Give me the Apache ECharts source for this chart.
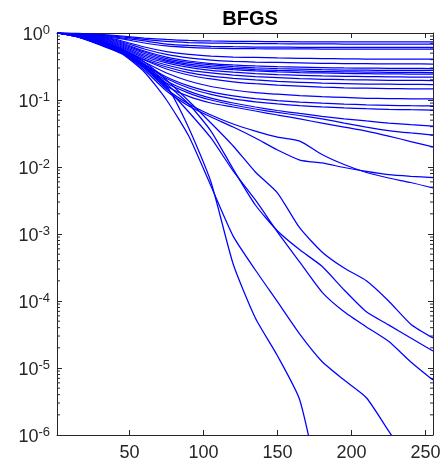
<!DOCTYPE html>
<html>
<head>
<meta charset="utf-8">
<script src="https://cdn.jsdelivr.net/npm/echarts@6/dist/echarts.min.js"></script>
<style>
html,body{margin:0;padding:0;background:#ffffff;}
#chart{width:442px;height:467px;}
</style>
</head>
<body>
<div id="chart"></div>
<script>
// ---- data ----
const chartTitle = 'BFGS';
const iterations = [1, 15, 30, 45, 60, 75, 90, 105, 120, 135, 150, 165, 180, 195, 210, 225, 240, 255];
const xTickValues = [50, 100, 150, 200, 250];
const minorMantissas = [2, 3, 4, 5, 6, 7, 8, 9];
const minorDecades = [-6, -5, -4, -3, -2, -1];

const run01 = [1, 0.983, 0.950, 0.902, 0.842, 0.800, 0.773, 0.760, 0.752, 0.747, 0.742, 0.739, 0.737, 0.734, 0.734, 0.734, 0.734, 0.734];
const run02 = [1, 0.983, 0.934, 0.872, 0.800, 0.747, 0.721, 0.709, 0.702, 0.697, 0.692, 0.690, 0.688, 0.685, 0.685, 0.685, 0.685, 0.685];
const run03 = [1, 0.966, 0.918, 0.842, 0.760, 0.685, 0.651, 0.633, 0.624, 0.618, 0.614, 0.612, 0.610, 0.608, 0.608, 0.608, 0.608, 0.608];
const run04 = [1, 0.966, 0.902, 0.814, 0.709, 0.640, 0.608, 0.593, 0.587, 0.583, 0.581, 0.579, 0.577, 0.577, 0.577, 0.577, 0.577, 0.577];
const run05 = [1, 0.966, 0.887, 0.760, 0.618, 0.529, 0.478, 0.453, 0.438, 0.431, 0.424, 0.419, 0.415, 0.412, 0.409, 0.409, 0.409, 0.409];
const run06 = [1, 0.966, 0.872, 0.734, 0.577, 0.478, 0.424, 0.395, 0.378, 0.369, 0.363, 0.357, 0.353, 0.350, 0.348, 0.347, 0.346, 0.344];
const run07 = [1, 0.966, 0.857, 0.709, 0.539, 0.438, 0.382, 0.350, 0.333, 0.322, 0.314, 0.309, 0.305, 0.301, 0.299, 0.297, 0.296, 0.295];
const run08 = [1, 0.950, 0.842, 0.685, 0.521, 0.416, 0.363, 0.333, 0.314, 0.302, 0.294, 0.288, 0.283, 0.280, 0.278, 0.276, 0.276, 0.276];
const run09 = [1, 0.950, 0.828, 0.662, 0.494, 0.395, 0.344, 0.316, 0.297, 0.285, 0.276, 0.271, 0.266, 0.263, 0.261, 0.259, 0.258, 0.257];
const run10 = [1, 0.950, 0.814, 0.640, 0.469, 0.376, 0.327, 0.300, 0.283, 0.272, 0.264, 0.257, 0.253, 0.249, 0.247, 0.245, 0.244, 0.244];
const run11 = [1, 0.934, 0.800, 0.618, 0.446, 0.357, 0.306, 0.277, 0.260, 0.248, 0.240, 0.234, 0.229, 0.226, 0.224, 0.222, 0.220, 0.220];
const run12 = [1, 0.934, 0.786, 0.597, 0.424, 0.333, 0.280, 0.253, 0.236, 0.224, 0.216, 0.209, 0.204, 0.201, 0.199, 0.197, 0.196, 0.195];
const run13 = [1, 0.934, 0.773, 0.577, 0.402, 0.311, 0.257, 0.228, 0.211, 0.199, 0.190, 0.184, 0.179, 0.176, 0.173, 0.172, 0.171, 0.170];
const run14 = [1, 0.918, 0.760, 0.557, 0.395, 0.290, 0.236, 0.206, 0.187, 0.175, 0.167, 0.161, 0.156, 0.152, 0.150, 0.148, 0.147, 0.146];
const run15 = [1, 0.918, 0.747, 0.557, 0.369, 0.253, 0.192, 0.159, 0.141, 0.129, 0.122, 0.116, 0.112, 0.109, 0.106, 0.105, 0.104, 0.1035];
const run16 = [1, 0.902, 0.734, 0.539, 0.344, 0.220, 0.162, 0.132, 0.115, 0.105, 0.0980, 0.0933, 0.0896, 0.0869, 0.0848, 0.0833, 0.0822, 0.0814];
const run17 = [1, 0.902, 0.721, 0.529, 0.333, 0.209, 0.151, 0.121, 0.104, 0.0940, 0.0872, 0.0825, 0.0789, 0.0762, 0.0742, 0.0726, 0.0716, 0.0709];
const run18 = [1, 0.902, 0.709, 0.521, 0.322, 0.192, 0.136, 0.107, 0.0902, 0.0786, 0.0697, 0.0629, 0.0571, 0.0524, 0.0486, 0.0453, 0.0428, 0.0409];
const run19 = [1, 0.887, 0.697, 0.512, 0.311, 0.179, 0.127, 0.100, 0.0842, 0.0734, 0.0651, 0.0587, 0.0521, 0.0453, 0.0395, 0.0350, 0.0322, 0.0300];
const run20 = [1, 0.872, 0.685, 0.503, 0.300, 0.162, 0.113, 0.0902, 0.0786, 0.0685, 0.0597, 0.0521, 0.0453, 0.0395, 0.0344, 0.0290, 0.0240, 0.0199];
const run21 = [1, 0.872, 0.674, 0.494, 0.280, 0.136, 0.0814, 0.0557, 0.0395, 0.0271, 0.0179, 0.0127, 0.0115, 0.00983, 0.00857, 0.00767, 0.00726, 0.00697];
const run22 = [1, 0.872, 0.674, 0.503, 0.300, 0.146, 0.0872, 0.0597, 0.0438, 0.0344, 0.0280, 0.0244, 0.0154, 0.0109, 0.00828, 0.00685, 0.00587, 0.00486];
const run23 = [1, 0.902, 0.760, 0.577, 0.369, 0.199, 0.0966, 0.0453, 0.0206, 0.00842, 0.00409, 0.00123, 5.4e-4, 3.1e-4, 2.0e-4, 1.0e-4, 4.5e-5, 2.8e-5];
const run24 = [1, 0.902, 0.760, 0.557, 0.344, 0.173, 0.0872, 0.0344, 0.00933, 0.00271, 0.00111, 5.8e-4, 3.3e-4, 1.46e-4, 6.9e-5, 4.4e-5, 2.8e-5, 1.79e-5];
const run25 = [1, 0.902, 0.734, 0.539, 0.322, 0.151, 0.0662, 0.0271, 0.00872, 0.00322, 0.00107, 3.8e-4, 1.36e-4, 6.9e-5, 4.1e-5, 2.5e-5, 1.23e-5, 6.6e-6];
const run26 = [1, 0.872, 0.662, 0.486, 0.262, 0.100, 0.0290, 0.0052, 9.3e-4, 2.9e-4, 9.7e-5, 3.2e-5, 1.25e-5, 6.6e-6, 3.6e-6, 1.15e-6, 3.6e-7];
const run27 = [1, 0.902, 0.709, 0.521, 0.311, 0.162, 0.0382, 0.00597, 3.57e-4, 5.57e-5, 1.51e-5, 3.33e-6, 1.07e-7];

const runs = [run01, run02, run03, run04, run05, run06, run07, run08, run09, run10,
  run11, run12, run13, run14, run15, run16, run17, run18, run19, run20,
  run21, run22, run23, run24, run25, run26, run27];

// ---- chart ----
const AXIS_COLOR = '#262626';
const FONT = 'Liberation Sans, Arial, Helvetica, sans-serif';
const X_MIN = 1, X_MAX = 255;
const minorTickValues = [];
minorDecades.forEach(function (d) {
  minorMantissas.forEach(function (m) { minorTickValues.push(m * Math.pow(10, d)); });
});

function logAxis(position, withLabels) {
  const ax = {
    type: 'log', logBase: 10, min: 1e-6, max: 1, position: position,
    axisLine: { show: true, onZero: false, lineStyle: { color: AXIS_COLOR, width: 1 } },
    axisTick: { show: true, inside: true, length: 5, lineStyle: { color: AXIS_COLOR, width: 1 } },
    axisLabel: { show: false },
    splitLine: { show: false },
    minorTick: { show: false },
    minorSplitLine: { show: false }
  };
  if (withLabels) {
    ax.axisLabel = {
      show: true, margin: 7, color: AXIS_COLOR, fontFamily: FONT,
      formatter: function (v) { return '{b|10}{s|' + Math.round(Math.log10(v)) + '}'; },
      rich: {
        b: { fontSize: 18, fontFamily: FONT, color: AXIS_COLOR, lineHeight: 22, verticalAlign: 'bottom' },
        s: { fontSize: 13, fontFamily: FONT, color: AXIS_COLOR, verticalAlign: 'top', padding: [2, 0, 0, 0] }
      }
    };
  }
  return ax;
}

function xAxis(position, showLabels) {
  return {
    type: 'value', min: X_MIN, max: X_MAX, position: position,
    axisLine: { show: true, onZero: false, lineStyle: { color: AXIS_COLOR, width: 1 } },
    axisTick: { show: true, inside: true, length: 5, customValues: xTickValues, lineStyle: { color: AXIS_COLOR, width: 1 } },
    axisLabel: showLabels ? { show: true, customValues: xTickValues, margin: 9, fontSize: 18, fontFamily: FONT, color: AXIS_COLOR } : { show: false },
    splitLine: { show: false }
  };
}

const series = runs.map(function (vals) {
  return {
    type: 'line', xAxisIndex: 0, yAxisIndex: 0,
    data: vals.map(function (v, i) { return [iterations[i], v]; }),
    showSymbol: false, symbol: 'none', smooth: 0.2, clip: true, silent: true,
    lineStyle: { color: '#0000ff', width: 1.25 },
    emphasis: { disabled: true }
  };
});

// minor log ticks (2..9 x 10^k) on the left and right box edges, placed through the axis scale
series.push({
  type: 'custom', xAxisIndex: 0, yAxisIndex: 0, silent: true, clip: false,
  data: minorTickValues.map(function (v) { return [X_MIN, v]; }),
  renderItem: function (params, api) {
    const v = api.value(1);
    const p = api.coord([X_MIN, v]);
    const q = api.coord([X_MAX, v]);
    const st = { stroke: AXIS_COLOR, lineWidth: 1 };
    return {
      type: 'group',
      children: [
        { type: 'line', shape: { x1: p[0], y1: p[1], x2: p[0] + 3, y2: p[1] }, style: st },
        { type: 'line', shape: { x1: q[0] - 3, y1: q[1], x2: q[0], y2: q[1] }, style: st }
      ]
    };
  }
});

const chart = echarts.init(document.getElementById('chart'), null, { renderer: 'canvas' });
chart.setOption({
  animation: false,
  backgroundColor: '#ffffff',
  title: {
    text: chartTitle, left: 245, top: 4, textAlign: 'center',
    textStyle: { fontFamily: FONT, fontWeight: 'bold', fontSize: 20, color: '#000000' }
  },
  grid: { left: 57, right: 9, top: 33, bottom: 32, containLabel: false, outerBoundsMode: 'none' },
  xAxis: [xAxis('bottom', true), xAxis('top', false)],
  yAxis: [logAxis('left', true), logAxis('right', false)],
  series: series
});
</script>
</body>
</html>
